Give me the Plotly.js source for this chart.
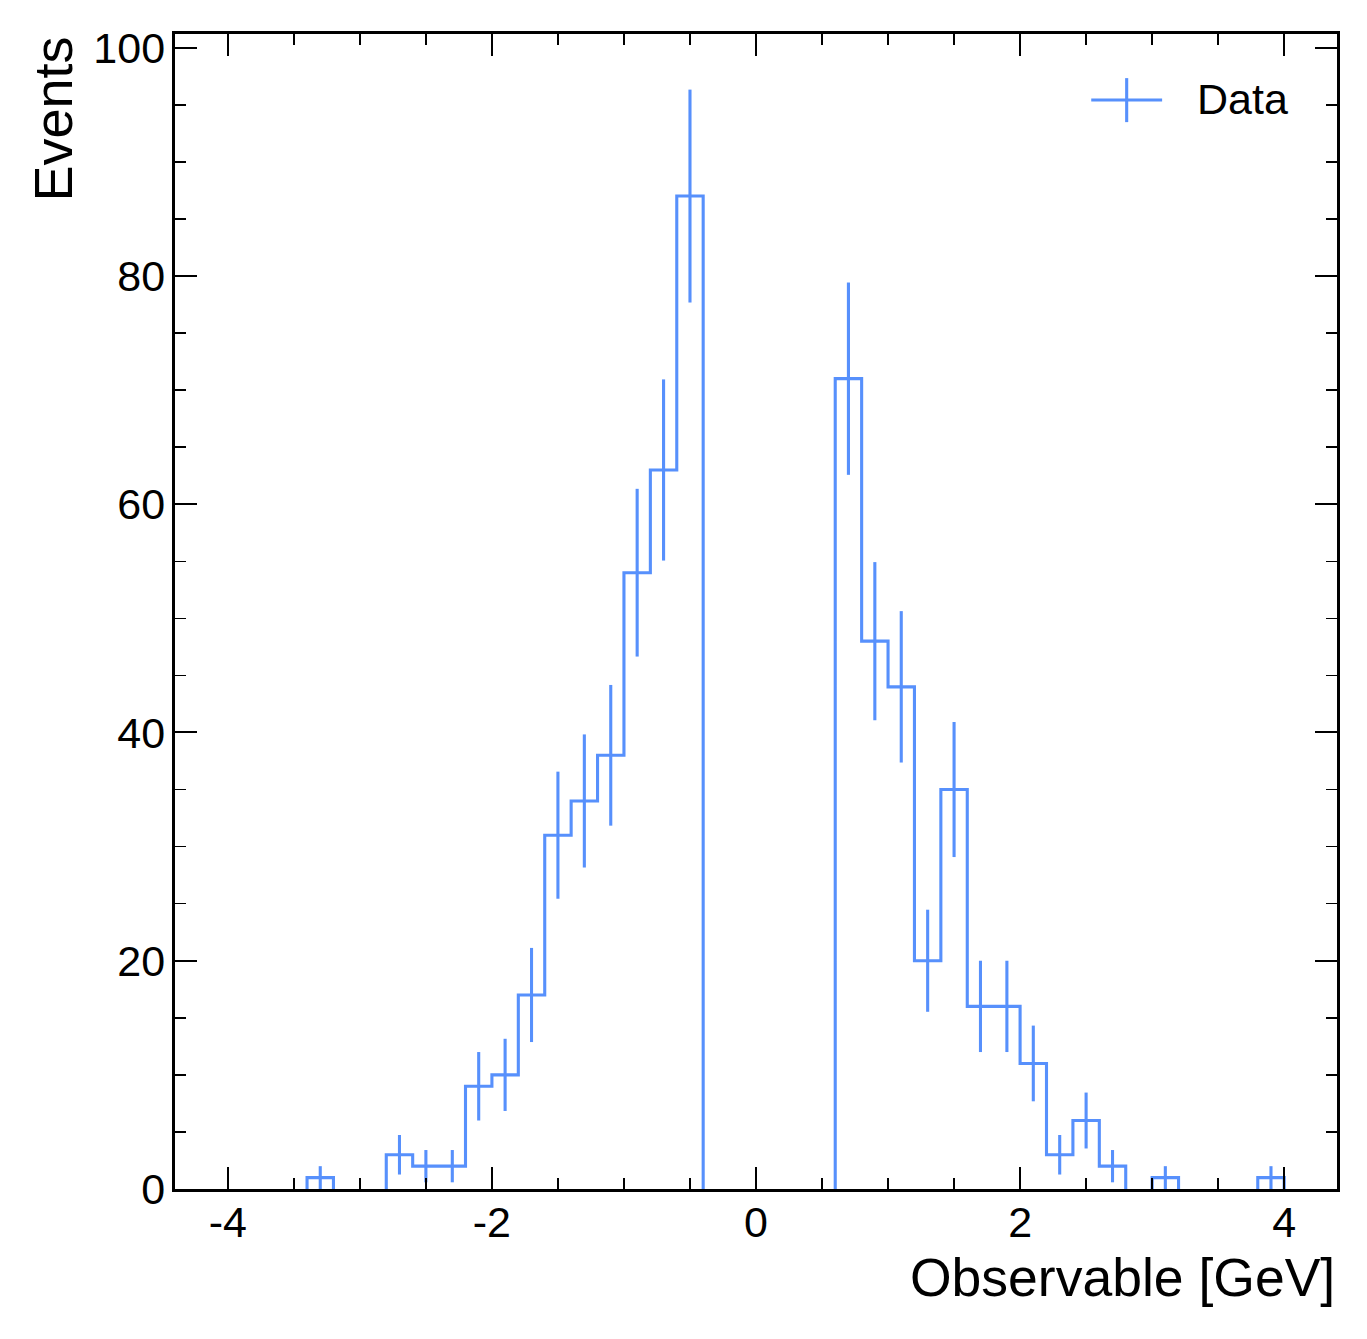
<!DOCTYPE html>
<html>
<head>
<meta charset="utf-8">
<script src="https://cdn.plot.ly/plotly-3.0.1.min.js"></script>
<style>
  html, body { margin: 0; padding: 0; background: #ffffff; }
  #chart { width: 1367px; height: 1339px; }
</style>
</head>
<body>
<div id="chart"></div>
<script>
// Bin edges (GeV)
const binEdges = [-4.4, -4.2, -4.0, -3.8, -3.6, -3.4, -3.2, -3.0, -2.8, -2.6, -2.4,
                  -2.2, -2.0, -1.8, -1.6, -1.4, -1.2, -1.0, -0.8, -0.6, -0.4,
                  -0.2, 0.0, 0.2, 0.4, 0.6, 0.8, 1.0, 1.2, 1.4, 1.6,
                  1.8, 2.0, 2.2, 2.4, 2.6, 2.8, 3.0, 3.2, 3.4, 3.6,
                  3.8, 4.0, 4.2, 4.4];
// Event counts per bin
const counts = [0, 0, 0, 0, 0, 1, 0, 0, 3, 2,
                2, 9, 10, 17, 31, 34, 38, 54, 63, 87,
                0, 0, 0, 0, 0, 71, 48, 44, 20, 35,
                16, 16, 11, 3, 6, 2, 0, 1, 0, 0,
                0, 1, 0, 0];
const seriesName = "Data";
const xTitle = "Observable [GeV]";
const yTitle = "Events";
// tick labels (ASCII hyphen minus as in the reference)
const xTickVals = [-4, -2, 0, 2, 4];
const xTickText = ["-4", "-2", "0", "2", "4"];
const yTickVals = [0, 20, 40, 60, 80, 100];
const yTickText = ["0", "20", "40", "60", "80", "100"];

const color = "#5790fc";
const fontFam = "'Liberation Sans', Arial, Helvetica, sans-serif";
const lw = 3.1;

// step outline: skip the empty-bin segments lying on the axis
const stepX = [], stepY = [];
for (let i = 0; i < counts.length; i++) {
  const c = counts[i];
  if (c <= 0) continue;
  const prev = i > 0 ? counts[i - 1] : 0;
  const next = i < counts.length - 1 ? counts[i + 1] : 0;
  if (prev <= 0) { stepX.push(binEdges[i]); stepY.push(0); }
  stepX.push(binEdges[i]); stepY.push(c);
  stepX.push(binEdges[i + 1]); stepY.push(c);
  if (next <= 0) {
    stepX.push(binEdges[i + 1]); stepY.push(0);
    stepX.push(null); stepY.push(null);
  }
}

// error bars at bin centres (Poisson sqrt(N)), non-empty bins
const ebX = [], ebY = [], ebE = [];
for (let i = 0; i < counts.length; i++) {
  if (counts[i] > 0) {
    ebX.push((binEdges[i] + binEdges[i + 1]) / 2);
    ebY.push(counts[i]);
    ebE.push(Math.sqrt(counts[i]));
  }
}

const traces = [
  {
    type: "scatter", mode: "lines", x: stepX, y: stepY, connectgaps: false,
    line: { shape: "linear", color: color, width: lw },
    showlegend: false, hoverinfo: "skip"
  },
  {
    type: "scatter", mode: "markers", x: ebX, y: ebY, name: seriesName,
    marker: { size: 1, color: color, opacity: 0 },
    error_y: { type: "data", array: ebE, visible: true, color: color, thickness: lw, width: 0 },
    showlegend: false
  }
];

const axisCommon = {
  showline: true, linecolor: "#000", linewidth: 3.3, mirror: "allticks",
  ticks: "inside", tickcolor: "#000", tickwidth: 2,
  showgrid: false, zeroline: false,
  tickfont: { family: fontFam, size: 43, color: "#000" }
};

const layout = {
  width: 1367, height: 1339,
  margin: { l: 175, r: 30, t: 34, b: 150, pad: 0 },
  paper_bgcolor: "#fff", plot_bgcolor: "#fff",
  showlegend: false,
  xaxis: Object.assign({}, axisCommon, {
    range: [-4.4, 4.4], tickmode: "array", tickvals: xTickVals, ticktext: xTickText, ticklen: 22,
    minor: { ticks: "inside", dtick: 0.5, tick0: 0, ticklen: 11, tickwidth: 1.5, tickcolor: "#000" },
    ticklabelstandoff: -7
  }),
  yaxis: Object.assign({}, axisCommon, {
    range: [0, 101.2], tickmode: "array", tickvals: yTickVals, ticktext: yTickText, ticklen: 22,
    minor: { ticks: "inside", dtick: 5, tick0: 0, ticklen: 11, tickwidth: 1.5, tickcolor: "#000" },
    ticklabelstandoff: -2
  }),
  annotations: [
    { text: yTitle, xref: "paper", yref: "paper", x: -0.105, y: 1.0, xanchor: "center", yanchor: "top",
      textangle: -90, showarrow: false, font: { family: fontFam, size: 54, color: "#000" } },
    { text: xTitle, xref: "paper", yref: "paper", x: 1.0, y: -0.0495, xanchor: "right", yanchor: "top",
      showarrow: false, font: { family: fontFam, size: 53.5, color: "#000" } },
    { text: seriesName, xref: "paper", yref: "paper", x: 0.8777, y: 0.944, xanchor: "left", yanchor: "middle",
      showarrow: false, font: { family: fontFam, size: 43, color: "#000" } }
  ],
  shapes: [
    // legend handle: horizontal line + vertical error bar
    { type: "line", xref: "paper", yref: "paper", x0: 0.7885, x1: 0.8495, y0: 0.9428, y1: 0.9428,
      line: { color: color, width: lw } },
    { type: "line", xref: "paper", yref: "paper", x0: 0.819, x1: 0.819, y0: 0.9237, y1: 0.9618,
      line: { color: color, width: lw } }
  ]
};

Plotly.newPlot("chart", traces, layout, { displayModeBar: false, staticPlot: true });
</script>
</body>
</html>
